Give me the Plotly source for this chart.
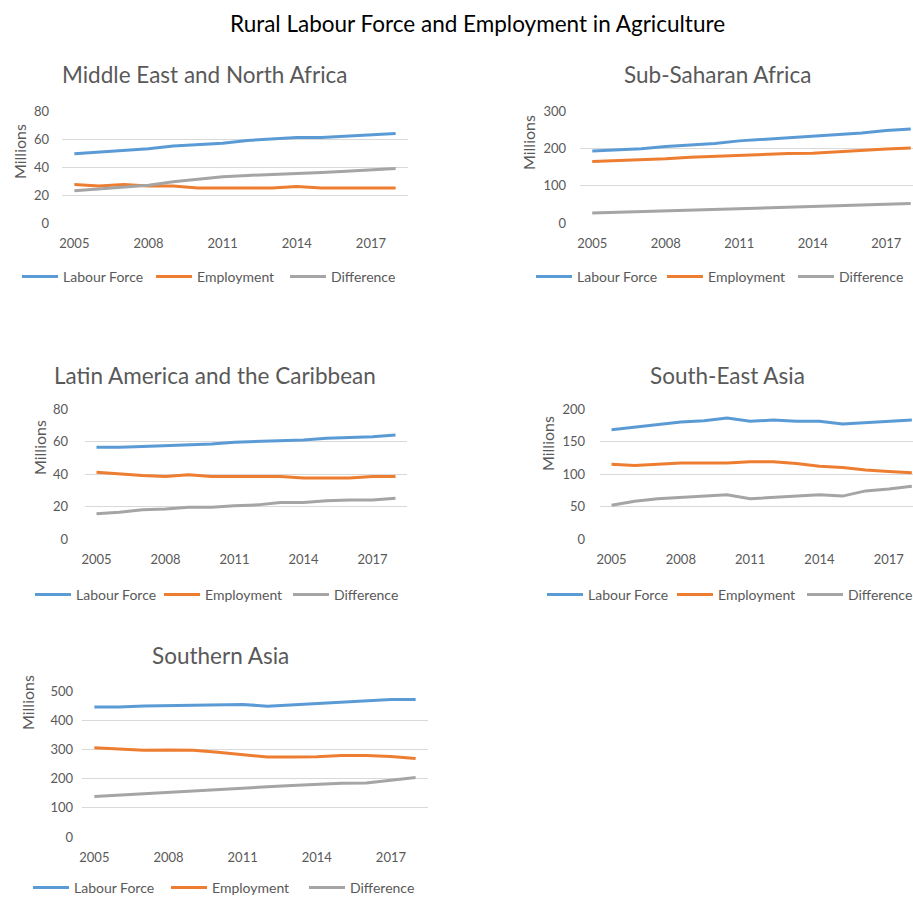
import plotly.graph_objects as go

W, H = 913, 898

years = list(range(2005, 2019))
tick_years = [2005, 2008, 2011, 2014, 2017]
series_names = ["Labour Force", "Employment", "Difference"]
colors = ["#5B9BD5", "#ED7D31", "#A5A5A5"]

# Middle East and North Africa (millions)
mena_labour = [49.5, 50.5, 52, 53, 55, 56, 57, 59, 60, 61, 61, 62, 63, 64]
mena_employment = [27.5, 26.5, 27.5, 26.5, 26.5, 25, 25, 25, 25, 26, 25, 25, 25, 25]
mena_difference = [23, 24.5, 25.5, 27, 29.5, 31.5, 33, 34, 34.5, 35, 36, 37, 38, 39]

# Sub-Saharan Africa
ssa_labour = [193, 195, 199, 205, 209, 213, 220, 224, 228, 231, 235, 241, 248, 252]
ssa_employment = [165, 167, 168, 172, 176, 179, 180, 183, 186, 187, 191, 195, 198, 201]
ssa_difference = [27, 29, 31, 33, 34, 36, 38, 41, 43, 45, 47, 48, 51, 52]

# Latin America and the Caribbean
lac_labour = [56.5, 56.5, 57, 57.5, 58, 58.5, 59.5, 60, 60.5, 61, 62, 62.5, 63, 64]
lac_employment = [41, 40, 39, 38.5, 39.5, 38.5, 38.5, 38.5, 38.5, 37.5, 37.5, 37.5, 38.5, 38.5]
lac_difference = [15.5, 16.5, 18, 18.5, 19.5, 19.5, 20.5, 21, 22.5, 22.5, 23.5, 24, 24, 25]

# South-East Asia
sea_labour = [168, 172, 177, 180, 182, 186, 181, 183, 181, 181, 177, 179, 181, 183]
sea_employment = [115, 113, 115, 117, 117, 117, 119, 119, 116, 112, 110, 106, 104, 102]
sea_difference = [52, 58, 62, 64, 66, 68, 62, 64, 66, 68, 66, 74, 77, 81]

# Southern Asia
sa_labour = [445, 445, 449, 450, 453, 454, 454, 448, 453, 458, 463, 467, 471, 471]
sa_employment = [306, 302, 297, 298, 297, 290, 282, 274, 274, 275, 279, 279, 276, 269]
sa_difference = [139, 144, 149, 154, 159, 164, 168, 172, 176, 180, 184, 185, 195, 204]

main_title = "Rural Labour Force and Employment in Agriculture"
panel_titles = ["Middle East and North Africa", "Sub-Saharan Africa",
                "Latin America and the Caribbean", "South-East Asia", "Southern Asia"]
panel_data = [
    (mena_labour, mena_employment, mena_difference),
    (ssa_labour, ssa_employment, ssa_difference),
    (lac_labour, lac_employment, lac_difference),
    (sea_labour, sea_employment, sea_difference),
    (sa_labour, sa_employment, sa_difference),
]
y_max = [80, 300, 80, 200, 500]
y_dtick = [20, 100, 20, 50, 100]

# ---- layout geometry (pixels) ----
geom = [
    dict(x0=62, x1=408, yt=111, yb=223, xr=2018.5, stand=12),
    dict(x0=580, x1=913, yt=111, yb=223, xr=2004.5 + 333 / 24.5, stand=13),
    dict(x0=85, x1=407, yt=409, yb=539, xr=2018.5, stand=16),
    dict(x0=600, x1=913, yt=409, yb=539, xr=2004.5 + 313 / 23.1, stand=14),
    dict(x0=82, x1=428, yt=691, yb=837, xr=2018.5, stand=8),
]
title_pos = [(205, 75), (717, 75), (215, 375), (727, 375), (220, 655)]
millions_pos = [(19, 152), (528, 143), (39, 448), (547, 444), (27, 703)]
# legend: left x, centre y, entry width
legend_pos = [(17, 277, 83), (531, 277, 80), (30, 595, 78), (542, 595, 79), (28, 888, 87)]

FONT = "Lato"
GRAY = "#595959"

fig = go.Figure()
layout = dict(
    width=W, height=H, margin=dict(l=0, r=0, t=0, b=0, autoexpand=False),
    paper_bgcolor="white", plot_bgcolor="white",
    font=dict(family=FONT, color=GRAY, size=12),
    annotations=[], showlegend=True,
)

def px_x(x):
    return x / W

def px_y(y):
    return 1 - y / H

for i in range(5):
    g = geom[i]
    suffix = "" if i == 0 else str(i + 1)
    xa, ya = "x" + suffix, "y" + suffix
    leg = "legend" if i == 0 else "legend" + str(i + 1)
    for name, vals, col in zip(series_names, panel_data[i], colors):
        fig.add_trace(go.Scatter(
            x=years, y=vals, name=name, mode="lines",
            line=dict(color=col, width=3),
            xaxis=xa, yaxis=ya, legend=leg, hoverinfo="skip",
        ))
    layout["xaxis" + suffix] = dict(
        domain=[px_x(g["x0"]), px_x(g["x1"])], anchor=ya,
        range=[2004.5, g["xr"]], tickmode="array", tickvals=tick_years,
        ticktext=[str(t) for t in tick_years], showgrid=False, zeroline=False,
        showline=False, ticks="", tickfont=dict(size=13, color=GRAY, family=FONT),
        ticklabelstandoff=11, fixedrange=True,
    )
    layout["yaxis" + suffix] = dict(
        domain=[px_y(g["yb"]), px_y(g["yt"])], anchor=xa,
        range=[0, y_max[i]], dtick=y_dtick[i], tick0=0, showgrid=True,
        gridcolor="#D9D9D9", gridwidth=1, zeroline=False, showline=False, ticks="",
        tickfont=dict(size=13, color=GRAY, family=FONT),
        ticklabelstandoff=g["stand"], fixedrange=True,
    )
    lx, ly, ew = legend_pos[i]
    layout[leg] = dict(
        x=px_x(lx), y=px_y(ly), xanchor="left", yanchor="middle",
        orientation="h", entrywidth=ew, entrywidthmode="pixels", itemwidth=36,
        font=dict(size=14, color=GRAY, family=FONT), bgcolor="rgba(0,0,0,0)",
        itemclick=False, itemdoubleclick=False,
    )
    tx, ty = title_pos[i]
    layout["annotations"].append(dict(
        text=panel_titles[i], x=px_x(tx), y=px_y(ty), xref="paper", yref="paper",
        xanchor="center", yanchor="middle", showarrow=False,
        font=dict(size=22.5, color=GRAY, family=FONT),
    ))
    mx, my = millions_pos[i]
    layout["annotations"].append(dict(
        text="Millions", x=px_x(mx), y=px_y(my), xref="paper", yref="paper",
        xanchor="center", yanchor="middle", showarrow=False, textangle=-90,
        font=dict(size=16, color=GRAY, family=FONT),
    ))

layout["annotations"].append(dict(
    text=main_title, x=px_x(478), y=px_y(24), xref="paper", yref="paper",
    xanchor="center", yanchor="middle", showarrow=False,
    font=dict(size=22.5, color="#000000", family=FONT),
))

fig.update_layout(**layout)
fig.write_html("out.html", config={"displayModeBar": False})
